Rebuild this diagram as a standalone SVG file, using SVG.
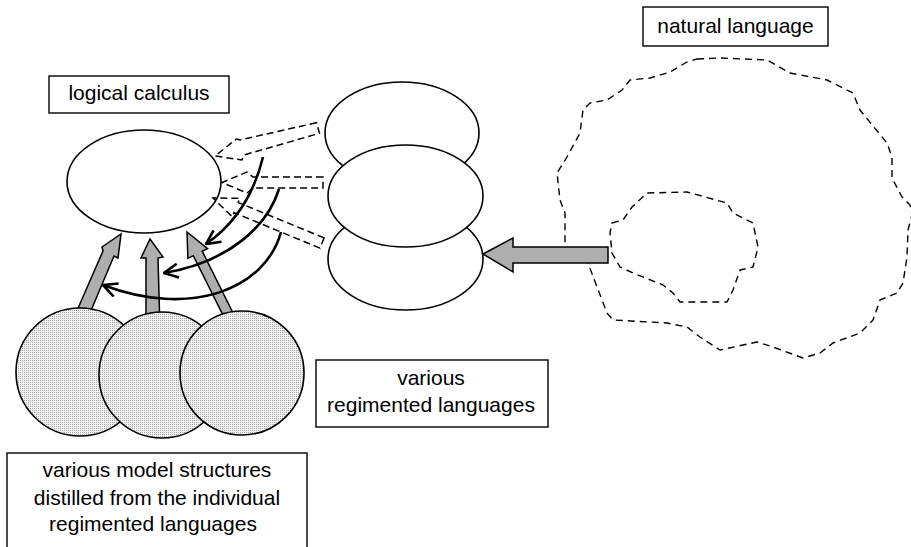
<svg xmlns="http://www.w3.org/2000/svg" width="911" height="547" viewBox="0 0 911 547">
<style>
.lbl{fill:#fff;stroke:#000;stroke-width:1.4}
.txt{font-family:"Liberation Sans",Arial,sans-serif;font-size:21px;fill:#000;text-anchor:middle}
.ell{fill:#fff;stroke:#000;stroke-width:1.6}
.circ{fill:url(#dots);stroke:#000;stroke-width:1.6}
.blob{fill:none;stroke:#000;stroke-width:1.4;stroke-dasharray:7 5;stroke-linejoin:round}
.dash{fill:none;stroke:#000;stroke-width:1.5;stroke-dasharray:7 4}
.gray{fill:#aeaeae;stroke:#000;stroke-width:1.5;stroke-linejoin:miter}
.curve{fill:none;stroke:#000;stroke-width:2.6;marker-end:url(#vhead)}
</style>
<defs>
<pattern id="dots" width="2" height="2" patternUnits="userSpaceOnUse">
<rect width="2" height="2" fill="#f2f2f2"/>
<rect width="1" height="1" fill="#a8a8a8"/>
</pattern>
<marker id="vhead" viewBox="0 0 16 16" refX="15" refY="8" markerWidth="16" markerHeight="16" markerUnits="userSpaceOnUse" orient="auto">
<path d="M1,1 L15,8 L1,15" fill="none" stroke="#000" stroke-width="2.6"/>
</marker>
</defs>

<g id="natural-language-region">
<path class="blob" d="M697,59 L720,58 L767,60 L790,73 L827,80 L853,93 L860,110 L887,143 L892,157 L892,178 L902,197 L910,205 L912,215 L908,230 L907,257 L903,283 L897,293 L880,300 L873,320 L860,333 L833,343 L820,353 L803,358 L773,347 L757,342 L720,350 L700,337 L687,327 L667,323 L613,320 L607,313 L597,287 L588,263 L583,252 L565,247 L565,213 L560,200 L557,173 L567,157 L580,133 L583,110 L590,103 L607,100 L622,90 L630,80 L650,78 L670,72 L687,62 Z"/>
<path class="blob" d="M612,223 L623,220 L632,207 L647,193 L687,192 L727,203 L733,213 L753,223 L758,247 L753,267 L740,270 L733,290 L727,302 L680,302 L673,293 L663,285 L633,273 L620,267 L612,253 L610,233 Z"/>
</g>

<g id="natural-language-label">
<rect class="lbl" x="643" y="7" width="185" height="39"/>
<text class="txt" x="735.5" y="33">natural language</text>
</g>

<g id="logical-calculus-label">
<rect class="lbl" x="49" y="76" width="180" height="37"/>
<text class="txt" x="139" y="100">logical calculus</text>
</g>

<g id="regimented-label">
<rect class="lbl" x="316" y="360" width="232" height="67"/>
<text class="txt" x="431" y="385">various</text>
<text class="txt" x="431" y="412">regimented languages</text>
</g>

<g id="model-structures-label">
<rect class="lbl" x="7" y="453" width="300" height="110"/>
<text class="txt" x="157" y="477">various model structures</text>
<text class="txt" x="157" y="505">distilled from the individual</text>
<text class="txt" x="153" y="531">regimented languages</text>
</g>

<g id="logical-calculus">
<ellipse class="ell" cx="144" cy="181.5" rx="77" ry="51.5"/>
</g>

<g id="regimented-languages">
<ellipse class="ell" cx="402" cy="133" rx="77" ry="51"/>
<ellipse class="ell" cx="405.5" cy="259" rx="77.5" ry="51"/>
<ellipse class="ell" cx="405.5" cy="196" rx="77.5" ry="51"/>
</g>

<g id="connectors">
<polygon class="gray" points="483,254 513,238 513,247 608,247 608,263 513,263 513,272"/>
<polygon class="gray" points="72,322 103,251 102,247 121,234 118,258 114,256 84,327"/>
<polygon class="gray" points="146,330 146,258 141,258 150,239 163,257 158,258 160,330"/>
<polygon class="gray" points="227.5,324.2 193.3,255.7 187.9,258.4 187,232 207.6,248.6 202.2,251.2 236.5,319.8"/>
<polygon class="dash" points="316.5,122.7 240,140 236.4,139 215,156 242,160 244,155 319.5,133.3"/>
<polygon class="dash" points="323,177 253,177 247,172 222,182.5 247,193 253,188 323,188"/>
<polygon class="dash" points="324.1,237.9 238.2,202.5 239.9,198.3 213,198 232.3,216.8 234,212.6 319.9,248.1"/>
<path class="curve" d="M263,157 C255,190 238,222 206,244"/>
<path class="curve" d="M279,189 C268,225 230,262 164,273"/>
<path class="curve" d="M281,232 C265,290 190,318 103,285"/>
</g>

<g id="model-structures">
<circle class="circ" cx="80" cy="372" r="64"/>
<circle class="circ" cx="162" cy="375" r="63"/>
<circle class="circ" cx="242" cy="373" r="62"/>
</g>
</svg>
